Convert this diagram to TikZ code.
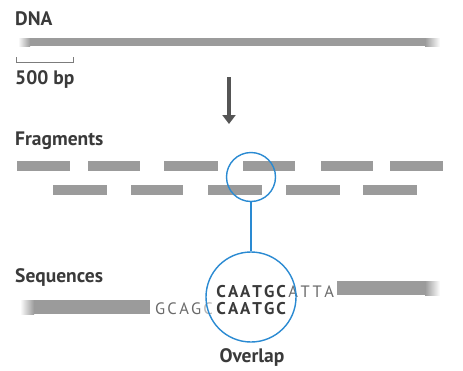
\documentclass[tikz,border=0pt]{standalone}
\usepackage{fontspec}
\setmainfont{PT Sans}
\usetikzlibrary{arrows.meta}
\definecolor{bar}{HTML}{9B9B9B}
\definecolor{txt}{HTML}{3A3A3A}
\definecolor{seqc}{HTML}{6A6A6A}
\definecolor{arr}{HTML}{555555}
\definecolor{blu}{HTML}{2A8AD2}
\newcommand\sq[1]{\makebox[12pt]{#1}}
\begin{document}
\begin{tikzpicture}[x=1pt,y=-1pt,
  lbl/.style={anchor=base west, inner sep=0, text=txt, font=\fontsize{19.5}{20}\selectfont\bfseries},
  seq/.style={anchor=base west, inner sep=0, text=seqc, font=\fontsize{16.5}{17}\selectfont},
  bseq/.style={anchor=base west, inner sep=0, text=txt, font=\fontsize{17}{17}\selectfont\bfseries},
  ring/.style={circle, draw=blu, line width=1.4, inner sep=0}]
\useasboundingbox (0,0) rectangle (463,370);
\fill[white] (0,0) rectangle (463,370);
% DNA
\node[lbl] (dna) at (15,25) {DNA};
\shade[left color=white, right color=bar] (18,38) rectangle (30,46);
\fill[bar] (30,38) rectangle (425,46);
\shade[left color=bar, right color=white] (425,38) rectangle (440,46);
\draw[bar!80!black, line width=0.6] (16,57) -- (16,62) -- (73,62) -- (73,57);
\node[lbl] (bp) at (15,84) {500 bp};
\coordinate (a1) at (229,77);
\coordinate (a2) at (229,124);
\draw[arr, line width=4, -{Triangle[width=13,length=9]}] (a1) -- (a2);
% Fragments
\node[lbl] (frag) at (15,145) {Fragments};
\foreach \a/\b in {17/70, 88/140, 164/218, 243/295, 321/373, 390/443}
  \fill[bar] (\a,161) rectangle (\b,171);
\foreach \a/\b in {53/107, 131/183, 208/262, 286/340, 363/417}
  \fill[bar] (\a,185) rectangle (\b,195);
\node[ring, minimum size=49] (c1) at (251,177) {};
% Sequences
\node[lbl] (seqs) at (15,282) {Sequences};
\shade[left color=white, right color=bar] (20,300) rectangle (34,314);
\fill[bar] (34,300) rectangle (150,314);
\fill[bar] (337,281) rectangle (425,295);
\shade[left color=bar, right color=white] (425,281) rectangle (440,295);
\node[seq] (gcag) at (154,314) {\sq{G}\sq{C}\sq{A}\sq{G}\textcolor{seqc!50}{\sq{C}}};
\node[bseq] (low) at (215,314) {\sq{C}\sq{A}\sq{A}\sq{T}\sq{G}\sq{C}};
\node[bseq] (up) at (215,297) {\sq{C}\sq{A}\sq{A}\sq{T}\sq{G}\sq{C}};
\node[seq] (atta) at (287,297) {\sq{A}\sq{T}\sq{T}\sq{A}};
\node[ring, minimum size=90] (c2) at (251,297) {};
\draw[blu, line width=1.4] (c1.south) -- (c2.north);
\node[lbl, anchor=base] (ov) at (252,362) {Overlap};
\end{tikzpicture}
\end{document}
